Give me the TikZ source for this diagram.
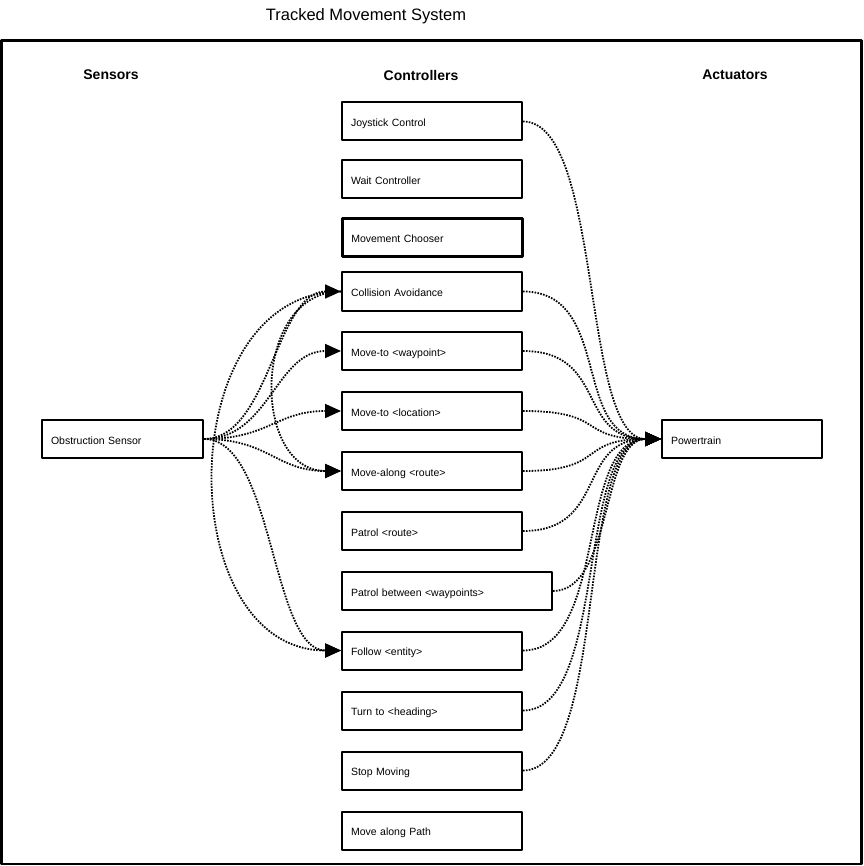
\documentclass[tikz,border=0pt]{standalone}
\usepackage{fontspec}
\setmainfont{Liberation Sans}
\usetikzlibrary{arrows.meta}

\begin{document}
\begin{tikzpicture}[x=1pt,y=-1pt,line join=round,
    box/.style={draw,line width=2pt,anchor=west,minimum height=38pt,inner xsep=9pt,text width=162pt,text height=10.6pt,text depth=0pt,align=left,font=\fontsize{10.5}{12}\selectfont},
    head/.style={font=\fontsize{14}{16}\selectfont\bfseries},
    wire/.style={line width=1.8pt,dash pattern=on 1.6pt off 1.3pt,line cap=butt},
    feed/.style={wire,-{Triangle[length=16pt,width=14pt]}}]
            \useasboundingbox (0,0) rectangle (863,866);
            \draw [line width=2.5pt] (1.5,40.5) rectangle (861.5,864);
            \node [font=\fontsize{16.5}{18}\selectfont] (title) at (366,16) {Tracked Movement System};
            \node [head] (hsensors) at (111,75) {Sensors};
            \node [head] (hcontrollers) at (421,75) {Controllers};
            \node [head] (hactuators) at (735,75) {Actuators};
            \node [box,text width=143pt] (sensor) at (41,439) {Obstruction Sensor};
            \node [box,text width=142pt] (power) at (661,439) {Powertrain};
            \node [box] (joystick) at (341,121.5) {Joystick Control};
            \node [box] (wait) at (341,179.5) {Wait Controller};
            \node [box,line width=2.6pt] (chooser) at (341,237.5) {Movement Chooser};
            \node [box] (collision) at (341,291.5) {Collision Avoidance};
            \node [box] (waypoint) at (341,351) {Move-to <waypoint>};
            \node [box] (location) at (341,411) {Move-to <location>};
            \node [box] (movealong) at (341,471) {Move-along <route>};
            \node [box] (patrol) at (341,531) {Patrol <route>};
            \node [box,text width=192pt] (between) at (341,591) {Patrol between <waypoints>};
            \node [box] (follow) at (341,650.5) {Follow <entity>};
            \node [box] (turn) at (341,710.5) {Turn to <heading>};
            \node [box] (stop) at (341,770.5) {Stop Moving};
            \node [box] (path) at (341,830.5) {Move along Path};
            \draw [feed] (sensor.east) .. controls +(65,0) and +(-65,0) .. (collision.west);
            \draw [feed] (sensor.east) .. controls +(65,0) and +(-65,0) .. (waypoint.west);
            \draw [feed] (sensor.east) .. controls +(65,0) and +(-65,0) .. (location.west);
            \draw [feed] (sensor.east) .. controls +(65,0) and +(-65,0) .. (movealong.west);
            \draw [feed] (sensor.east) .. controls +(70,0) and +(-70,0) .. (follow.west);
            \draw [feed] (collision.west) .. controls +(-90,0) and +(-90,0) .. (movealong.west);
            \draw [feed] (collision.west) .. controls +(-170,0) and +(-170,0) .. (follow.west);
            \draw [feed] (joystick.east) .. controls +(80,0) and +(-80,0) .. (power.west);
            \draw [feed] (collision.east) .. controls +(90,0) and +(-90,0) .. (power.west);
            \draw [feed] (waypoint.east) .. controls +(85,0) and +(-85,0) .. (power.west);
            \draw [feed] (location.east) .. controls +(85,0) and +(-85,0) .. (power.west);
            \draw [feed] (movealong.east) .. controls +(85,0) and +(-85,0) .. (power.west);
            \draw [feed] (patrol.east) .. controls +(85,0) and +(-85,0) .. (power.west);
            \draw [feed] (between.east) .. controls +(60,0) and +(-60,0) .. (power.west);
            \draw [feed] (follow.east) .. controls +(85,0) and +(-85,0) .. (power.west);
            \draw [feed] (turn.east) .. controls +(85,0) and +(-85,0) .. (power.west);
            \draw [feed] (stop.east) .. controls +(85,0) and +(-85,0) .. (power.west);
\end{tikzpicture}
\end{document}
